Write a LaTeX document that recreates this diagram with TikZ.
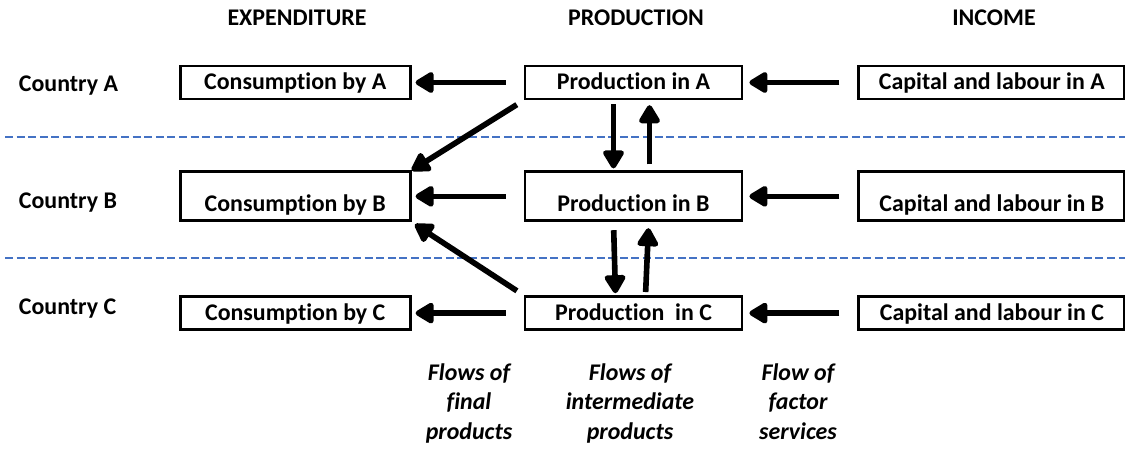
\documentclass[tikz,border=0pt]{standalone}
\usepackage{fontspec}
\setmainfont{Carlito}[Ligatures=NoCommon]
\usetikzlibrary{arrows.meta, positioning}
\definecolor{dividerblue}{HTML}{4472C4}

\begin{document}
\begin{tikzpicture}[
        box/.style={draw, line width=2pt, inner sep=0pt, font=\bfseries\fontsize{17}{20}\selectfont,
            text height=0.5cm, text depth=0.125cm, minimum height=0.825cm},
        tallbox/.style={box, text height=0.9cm, minimum height=1.225cm},
        flow/.style={line width=4pt, -{Triangle[length=0.52cm, width=0.58cm, round]}},
        divider/.style={line width=1.4pt, draw=dividerblue, dash pattern=on 0.2cm off 0.09cm},
        head/.style={font=\bfseries\fontsize{17}{20}\selectfont},
        note/.style={font=\bfseries\itshape\fontsize{17}{21}\selectfont, align=center, anchor=north, inner sep=0pt}
    ]
        \useasboundingbox (0,0) rectangle (28.125,11.25);

        % Production column
        \node [box, minimum width=5.425cm] (pA) at (15.8375, 9.1875) {Production in A};
        \node [tallbox, minimum width=5.425cm, below=1.75cm of pA] (pB) {Production in B};
        \node [box, minimum width=5.425cm, below=1.825cm of pB] (pC) {Production\ \ in C};

        % Expenditure and income columns
        \node [box, minimum width=5.75cm, left=2.8cm of pA] (cA) {Consumption by A};
        \node [tallbox, minimum width=5.75cm, left=2.8cm of pB] (cB) {Consumption by B};
        \node [box, minimum width=5.75cm, left=2.8cm of pC] (cC) {Consumption by C};
        \node [box, minimum width=6.65cm, right=2.85cm of pA] (kA) {Capital and labour in A};
        \node [tallbox, minimum width=6.65cm, right=2.85cm of pB] (kB) {Capital and labour in B};
        \node [box, minimum width=6.65cm, right=2.85cm of pC] (kC) {Capital and labour in C};

        % Headings and countries
        \node [head] (hExp) at (7.425, 10.8) {EXPENDITURE};
        \node [head] (hProd) at (15.9, 10.8) {PRODUCTION};
        \node [head] (hInc) at (24.85, 10.8) {INCOME};
        \node [head, anchor=base west] (ctyA) at (0.35, 8.97) {Country A};
        \node [head, anchor=base west] (ctyB) at (0.35, 6.03) {Country B};
        \node [head, anchor=base west] (ctyC) at (0.35, 3.4) {Country C};

        % Separators
        \draw [divider] (0.125, 7.825) -- (28.125, 7.825);
        \draw [divider] (0.125, 4.8) -- (28.125, 4.8);

        % Final products and factor services
        \draw [flow, shorten <=0.45cm, shorten >=0.1cm] (pA) -- (cA);
        \draw [flow, shorten <=0.45cm, shorten >=0.1cm] (pB) -- (cB);
        \draw [flow, shorten <=0.45cm, shorten >=0.1cm] (pC) -- (cC);
        \draw [flow, shorten <=0.45cm, shorten >=0.15cm] (kA) -- (pA);
        \draw [flow, shorten <=0.45cm, shorten >=0.15cm] (kB) -- (pB);
        \draw [flow, shorten <=0.45cm, shorten >=0.15cm] (kC) -- (pC);
        \draw [flow, shorten <=0.2cm] (pA.south west) -- (cB.north east);
        \draw [flow, shorten <=0.2cm, shorten >=0.1cm] (pC.north west) -- (cB.south east);

        % Intermediate products
        \draw [flow, shorten <=0.1cm, shorten >=0.05cm] ([xshift=-0.5cm]pA.south) -- ([xshift=-0.5cm]pB.north);
        \draw [flow, shorten <=0.15cm, shorten >=0.12cm] ([xshift=0.4cm]pB.north) -- ([xshift=0.4cm]pA.south);
        \draw [flow, shorten <=0.2cm, shorten >=0.05cm] ([xshift=-0.5cm]pB.south) -- ([xshift=-0.45cm]pC.north);
        \draw [flow, shorten <=0.08cm, shorten >=0.15cm] ([xshift=0.3cm]pC.north) -- ([xshift=0.38cm]pB.south);

        % Captions
        \node [note] (nFinal) at (11.725, 2.175) {Flows of\\final\\products};
        \node [note] (nInter) at (15.75, 2.175) {Flows of\\intermediate\\products};
        \node [note] (nFactor) at (19.95, 2.175) {Flow of\\factor\\services};
    \end{tikzpicture}
\end{document}
